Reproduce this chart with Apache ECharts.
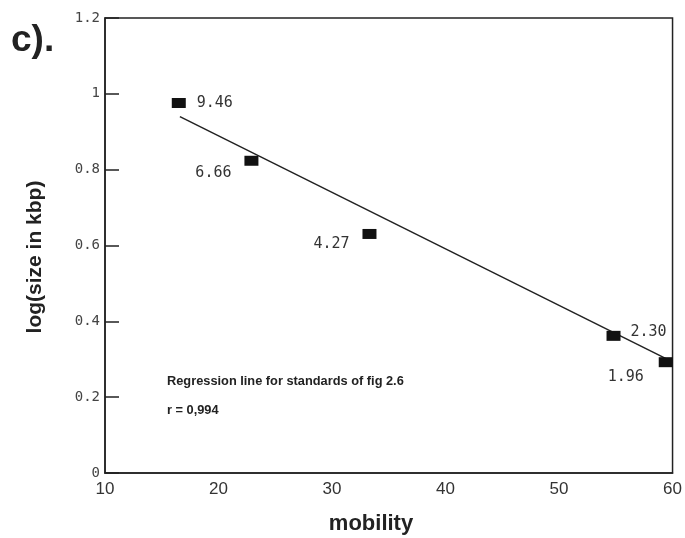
<!DOCTYPE html>
<html>
<head>
<meta charset="utf-8">
<script src="https://cdn.jsdelivr.net/npm/echarts@6/dist/echarts.min.js"></script>
<style>
  html, body { margin: 0; padding: 0; background: #fff; }
  #chart { width: 685px; height: 538px; }
</style>
</head>
<body>
<div id="chart"></div>
<script>
// DNA size standards: electrophoretic mobility vs fragment size (kbp)
const mobility = [16.5, 22.9, 33.3, 54.8, 59.4];
const sizesKbp = [9.46, 6.66, 4.27, 2.30, 1.96];

// Fitted regression line end points (mobility, log size)
const fitX = [16.6, 60];
const fitY = [0.94, 0.293];

// Axis ticks
const yTicks = [0, 0.2, 0.4, 0.6, 0.8, 1, 1.2];
const xTicks = [10, 20, 30, 40, 50, 60];

const annotationLines = ['Regression line for standards of fig 2.6', 'r = 0,994'];

// Label placement per point, relative to the marker centre
const labelOffsets = [[36, 0], [-38, 12], [-38, 10], [35, -4], [-40, 15]];

const monoFont = '"DejaVu Sans Mono", "Liberation Mono", monospace';
const sansFont = '"Liberation Sans", Arial, sans-serif';

const points = mobility.map((m, i) => ({
  value: [m, Math.log10(sizesKbp[i])],
  label: {
    show: true,
    position: 'inside',
    offset: labelOffsets[i],
    formatter: sizesKbp[i].toFixed(2),
    color: '#333',
    fontFamily: monoFont,
    fontSize: 15
  }
}));

const chart = echarts.init(document.getElementById('chart'), null, { renderer: 'canvas' });

chart.setOption({
  animation: false,
  backgroundColor: '#fff',
  grid: {
    left: 105, right: 11, top: 18, bottom: 65,
    show: true, borderColor: '#222', borderWidth: 1.5
  },
  xAxis: {
    type: 'value',
    min: xTicks[0], max: xTicks[xTicks.length - 1], interval: 10,
    axisLine: { show: true, lineStyle: { color: '#222', width: 1.5 } },
    axisTick: { show: false },
    splitLine: { show: false },
    axisLabel: { color: '#333', fontFamily: sansFont, fontSize: 17, margin: 8 }
  },
  yAxis: {
    type: 'value',
    min: yTicks[0], max: yTicks[yTicks.length - 1], interval: 0.2,
    axisLine: { show: true, lineStyle: { color: '#222', width: 1.5 } },
    axisTick: { show: true, inside: true, length: 14, lineStyle: { color: '#222', width: 1.5 } },
    splitLine: { show: false },
    axisLabel: {
      color: '#444', fontFamily: monoFont, fontSize: 14, margin: 5,
      formatter: v => String(Math.round(v * 10) / 10)
    }
  },
  series: [
    {
      type: 'line',
      data: fitX.map((x, i) => [x, fitY[i]]),
      showSymbol: false,
      lineStyle: { color: '#222', width: 1.5 },
      silent: true,
      z: 2
    },
    {
      type: 'scatter',
      data: points,
      symbol: 'rect',
      symbolSize: [14, 10],
      itemStyle: { color: '#111', opacity: 1 },
      z: 3
    }
  ],
  graphic: [
    {
      type: 'text', left: 11, top: 22,
      style: { text: 'c).', font: 'bold 37px ' + sansFont, fill: '#222' }
    },
    {
      type: 'text', left: 167, top: 375,
      style: { text: annotationLines[0], font: 'bold 12.8px ' + sansFont, fill: '#222' }
    },
    {
      type: 'text', left: 167, top: 404,
      style: { text: annotationLines[1], font: 'bold 12.8px ' + sansFont, fill: '#222' }
    },
    {
      type: 'text', x: 371, y: 524,
      style: { text: 'mobility', font: 'bold 22px ' + sansFont, fill: '#222', align: 'center', verticalAlign: 'middle' }
    },
    {
      type: 'text', x: 35, y: 257, rotation: Math.PI / 2,
      style: { text: 'log(size in kbp)', font: 'bold 21px ' + sansFont, fill: '#222', align: 'center', verticalAlign: 'middle' }
    }
  ]
});
</script>
</body>
</html>
